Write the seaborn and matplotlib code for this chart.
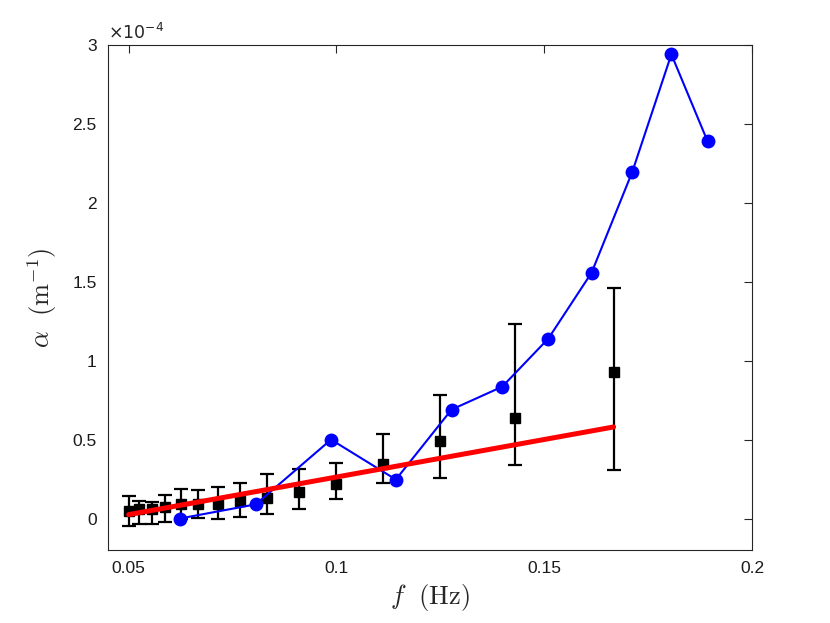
import numpy as np
import matplotlib
matplotlib.use("Agg")
import matplotlib.pyplot as plt
import seaborn as sns
import pandas as pd

# Frecuencias y atenuacion (en unidades de 1e-4 m^-1)
f_model = [0.0623, 0.0806, 0.0987, 0.1143, 0.1277, 0.1399, 0.1510, 0.1614, 0.1712, 0.1806, 0.1893]
alpha_model = [0.0, 0.09, 0.50, 0.247, 0.69, 0.835, 1.14, 1.557, 2.196, 2.94, 2.39]

f_obs = [0.05, 0.0526, 0.0556, 0.0588, 0.0625, 0.0667, 0.0714, 0.0769, 0.0833,
         0.0909, 0.1, 0.1111, 0.125, 0.1429, 0.1667]
alpha_obs = [0.048, 0.063, 0.063, 0.076, 0.089, 0.095, 0.089, 0.11, 0.131,
             0.169, 0.22, 0.347, 0.49, 0.639, 0.926]
alpha_hi = [0.145, 0.108, 0.102, 0.152, 0.184, 0.178, 0.197, 0.224, 0.279,
            0.311, 0.351, 0.535, 0.78, 1.229, 1.457]
alpha_lo = [-0.045, -0.032, -0.032, -0.019, -0.006, 0.006, -0.006, 0.01, 0.03,
            0.059, 0.122, 0.226, 0.256, 0.336, 0.306]

f_fit = [0.05, 0.1667]
alpha_fit = [0.025, 0.58]

sns.set_style("white")
plt.rcParams['font.family'] = ['Liberation Sans', 'DejaVu Sans']
plt.rcParams['mathtext.fontset'] = 'cm'

fig = plt.figure(figsize=(8.3, 6.23), dpi=100)
ax = fig.add_axes([0.130, 0.117, 0.776, 0.811])

# barras de error de las observaciones
obs = np.array(alpha_obs)
yerr = [obs - np.array(alpha_lo), np.array(alpha_hi) - obs]
ax.errorbar(f_obs, alpha_obs, yerr=yerr, fmt='s', color='black', ms=7.5,
            elinewidth=1.6, capsize=5, capthick=1.6, zorder=2)

df_model = pd.DataFrame({'f': f_model, 'alpha': alpha_model})
sns.lineplot(data=df_model, x='f', y='alpha', ax=ax, color='blue', lw=1.5,
             marker='o', markersize=10, markeredgewidth=0, zorder=3)

df_fit = pd.DataFrame({'f': f_fit, 'alpha': alpha_fit})
sns.lineplot(data=df_fit, x='f', y='alpha', ax=ax, color='red', lw=3.6, zorder=4)

ax.set_xlim(0.045, 0.2)
ax.set_ylim(-0.2, 3)
ax.set_xticks([0.05, 0.1, 0.15, 0.2])
ax.set_xticklabels(['0.05', '0.1', '0.15', '0.2'])
ax.set_yticks([0, 0.5, 1, 1.5, 2, 2.5, 3])
ax.set_yticklabels(['0', '0.5', '1', '1.5', '2', '2.5', '3'])
ax.tick_params(direction='in', length=6, width=0.8, colors='#262626',
               labelsize=12.5, labelcolor='#1a1a1a', top=True, right=True, pad=8)
for s in ax.spines.values():
    s.set_visible(True)
    s.set_color('#262626')
    s.set_linewidth(0.8)

ax.set_xlabel(r'$f\ \ (\mathrm{Hz})$', fontsize=19, color='#262626', labelpad=4)
ax.set_ylabel(r'$\alpha\ \ (\mathrm{m}^{-1})$', fontsize=19, color='#262626', labelpad=10)
ax.text(0.0, 1.005, r'$\times10^{-4}$', transform=ax.transAxes, fontsize=12.5,
        color='#262626', ha='left', va='bottom', math_fontfamily='dejavusans')

fig.savefig('out.png', dpi=100)
